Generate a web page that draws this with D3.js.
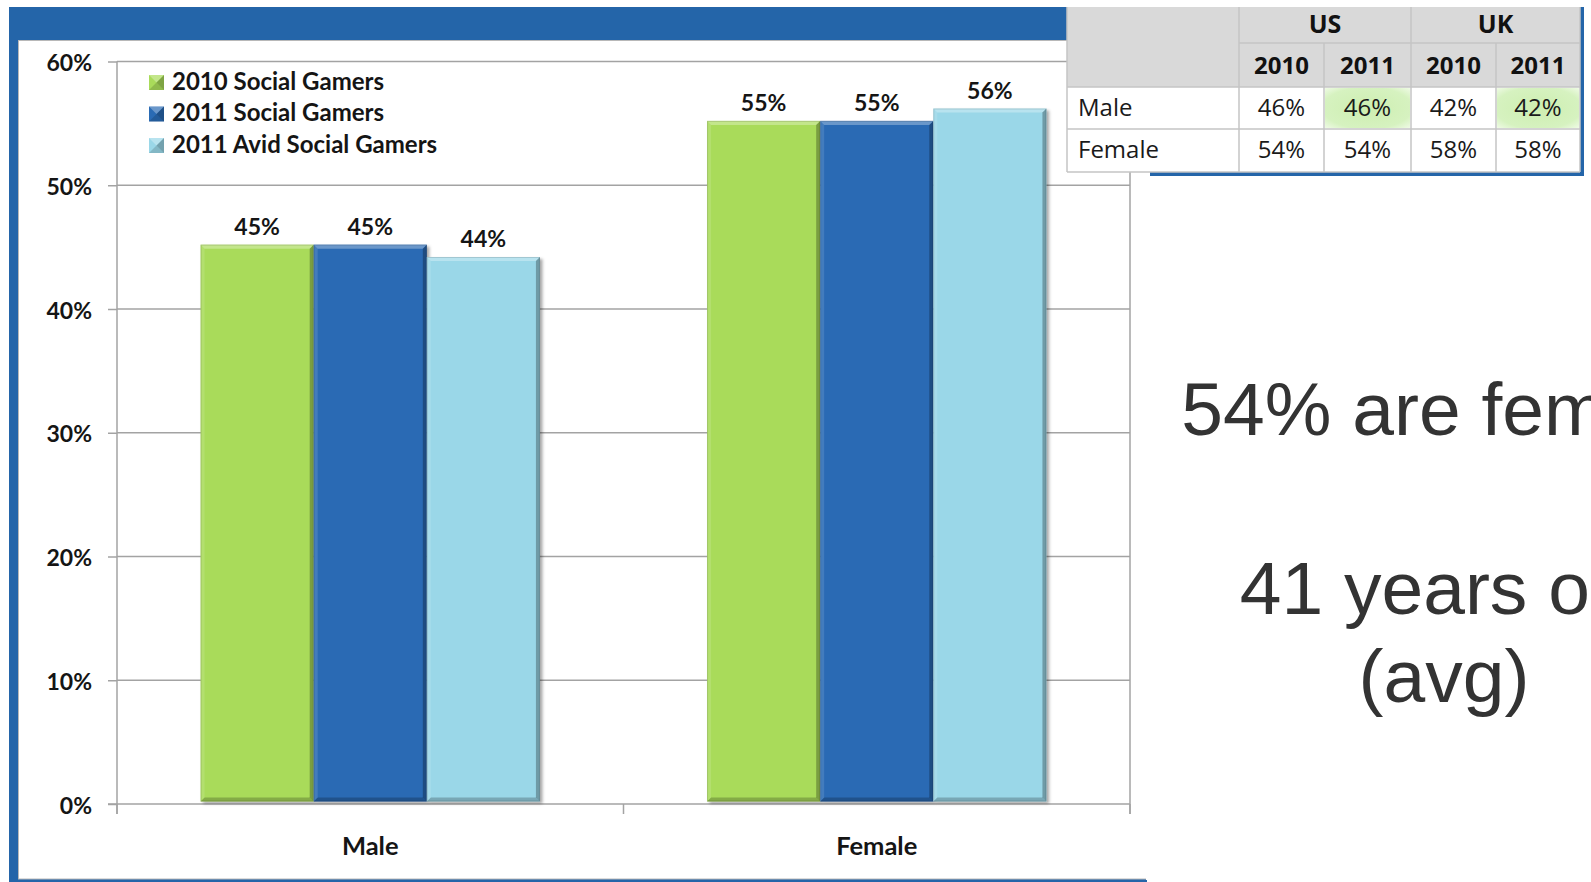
<!DOCTYPE html>
<html>
<head>
<meta charset="utf-8">
<script src="https://cdn.jsdelivr.net/npm/d3@7"></script>
<style>
  html, body { margin: 0; padding: 0; background: #ffffff; overflow: hidden; }
  svg { display: block; }
</style>
</head>
<body>
<svg id="chart" width="1591" height="882"></svg>
<script>
// ---------------- DATA ----------------
const categories = ["Male", "Female"];
const seriesNames = ["2010 Social Gamers", "2011 Social Gamers", "2011 Avid Social Gamers"];
const values2010 = [45, 55];
const values2011 = [45, 55];
const valuesAvid = [44, 56];
const yTickValues = [0, 10, 20, 30, 40, 50, 60];
const seriesColors = ["#a9db5a", "#2a6bb4", "#9ad7e8"];

const tableRegions = ["US", "UK"];
const tableYears = ["2010", "2011", "2010", "2011"];
const tableRowLabels = ["Male", "Female"];
const tableMale = [46, 46, 42, 42];
const tableFemale = [54, 54, 58, 58];
const tableHighlight = [false, true, false, true];

const sideLines = ["54% are female", "41 years old", "(avg)"];

// ---------------- SETUP ----------------
const svg = d3.select("#chart");
const blue = "#2465a9";
const gridColor = "#a3a3a3";
const chartFont = "Lato, 'Open Sans', sans-serif";
const tableFont = "'Open Sans', 'Noto Sans', sans-serif";

const defs = svg.append("defs");
const shadow = defs.append("filter").attr("id", "shadow")
  .attr("x", "-10%").attr("y", "-10%").attr("width", "130%").attr("height", "130%");
shadow.append("feDropShadow").attr("dx", 2.5).attr("dy", 2).attr("stdDeviation", 1.8)
  .attr("flood-color", "#000").attr("flood-opacity", 0.35);

const greenGrad = defs.append("radialGradient").attr("id", "greenCell")
  .attr("cx", "50%").attr("cy", "50%").attr("r", "70%");
greenGrad.append("stop").attr("offset", "0%").attr("stop-color", "#cdeeb0");
greenGrad.append("stop").attr("offset", "75%").attr("stop-color", "#d6f2c0");
greenGrad.append("stop").attr("offset", "100%").attr("stop-color", "#eefae4");

// ---------------- FRAME ----------------
svg.append("rect").attr("x", 9).attr("y", 7).attr("width", 1140).attr("height", 875).attr("fill", blue);
svg.append("rect").attr("x", 18.5).attr("y", 40.5).attr("width", 1131).attr("height", 838.5)
  .attr("fill", "#ffffff").attr("stroke", "#b8b8b8").attr("stroke-width", 1);
svg.append("rect").attr("x", 1146).attr("y", 40).attr("width", 10).attr("height", 842).attr("fill", "#ffffff");
svg.append("rect").attr("x", 9).attr("y", 880).attr("width", 1138).attr("height", 2).attr("fill", blue);

// ---------------- SCALES ----------------
const plotLeft = 117, plotRight = 1130;
const y = d3.scaleLinear().domain([0, 60]).range([804, 61.5]);
const x0 = d3.scaleBand().domain(categories).range([plotLeft, plotRight])
  .paddingInner(0.33).paddingOuter(0.165);
const x1 = d3.scaleBand().domain(seriesNames).range([0, x0.bandwidth()]).padding(0);

const g = svg.append("g");

// gridlines
g.append("g").selectAll("line").data(yTickValues.filter(d => d > 0)).join("line")
  .attr("x1", plotLeft).attr("x2", plotRight)
  .attr("y1", d => y(d)).attr("y2", d => y(d))
  .attr("stroke", gridColor).attr("stroke-width", 1.5);

g.append("line").attr("x1", plotRight).attr("x2", plotRight)
  .attr("y1", y(60)).attr("y2", 814).attr("stroke", gridColor).attr("stroke-width", 1.5);

// y axis
const yAxis = d3.axisLeft(y).tickValues(yTickValues).tickFormat(d => d + "%").tickSize(9).tickPadding(16);
const yAxisG = g.append("g").attr("transform", `translate(${plotLeft},0)`).call(yAxis);
yAxisG.select(".domain").remove();
yAxisG.selectAll(".tick line").attr("stroke", gridColor).attr("stroke-width", 1.5);
yAxisG.selectAll(".tick text").attr("font-family", chartFont).attr("font-weight", "bold")
  .attr("font-size", 23).attr("fill", "#151515").attr("dy", null).attr("dominant-baseline", "central");
g.append("line").attr("x1", plotLeft).attr("x2", plotLeft).attr("y1", y(60)).attr("y2", 814)
  .attr("stroke", gridColor).attr("stroke-width", 1.5);

// x axis baseline and category boundary ticks
g.append("line").attr("x1", plotLeft - 9).attr("x2", plotRight).attr("y1", y(0)).attr("y2", y(0))
  .attr("stroke", gridColor).attr("stroke-width", 1.5);
const boundaries = [plotLeft, (x0(categories[0]) + x0.bandwidth() + x0(categories[1])) / 2, plotRight];
g.append("g").selectAll("line").data(boundaries).join("line")
  .attr("x1", d => d).attr("x2", d => d).attr("y1", y(0)).attr("y2", 814)
  .attr("stroke", gridColor).attr("stroke-width", 1.5);

// category labels
g.append("g").selectAll("text").data(categories).join("text")
  .attr("x", d => x0(d) + x0.bandwidth() / 2).attr("y", 855)
  .attr("text-anchor", "middle").attr("font-family", chartFont).attr("font-weight", "bold")
  .attr("font-size", 25.5).attr("fill", "#151515").text(d => d);

// ---------------- BARS ----------------
const seriesValues = [values2010, values2011, valuesAvid];
const barData = [];
categories.forEach((c, ci) => {
  seriesNames.forEach((s, si) => {
    barData.push({ cat: c, series: s, value: seriesValues[si][ci], color: seriesColors[si] });
  });
});
const lift = 2.5;
const bev = 4;
const bars = g.append("g").selectAll("g.bar").data(barData).join("g").attr("class", "bar");
bars.each(function(d) {
  const sel = d3.select(this);
  const bx = x0(d.cat) + x1(d.series);
  const bw = x1.bandwidth();
  const by = y(d.value) - lift;
  const bh = y(0) - y(d.value);
  sel.append("rect").attr("x", bx).attr("y", by).attr("width", bw).attr("height", bh)
    .attr("fill", d.color).attr("filter", "url(#shadow)");
  sel.append("polygon").attr("points", [[bx, by], [bx + bw, by], [bx + bw - bev, by + bev], [bx + bev, by + bev]].join(" "))
    .attr("fill", "#ffffff").attr("opacity", 0.3);
  sel.append("polygon").attr("points", [[bx, by], [bx + bev, by + bev], [bx + bev, by + bh - bev], [bx, by + bh]].join(" "))
    .attr("fill", "#ffffff").attr("opacity", 0.12);
  sel.append("polygon").attr("points", [[bx + bw, by], [bx + bw, by + bh], [bx + bw - bev, by + bh - bev], [bx + bw - bev, by + bev]].join(" "))
    .attr("fill", "#000000").attr("opacity", 0.28);
  sel.append("polygon").attr("points", [[bx, by + bh], [bx + bw, by + bh], [bx + bw - bev, by + bh - bev], [bx + bev, by + bh - bev]].join(" "))
    .attr("fill", "#000000").attr("opacity", 0.22);
  sel.append("rect").attr("x", bx + 0.5).attr("y", by + 0.5).attr("width", bw - 1).attr("height", bh - 1)
    .attr("fill", "none").attr("stroke", "#000").attr("stroke-opacity", 0.12).attr("stroke-width", 1);
});

// value labels
g.append("g").selectAll("text").data(barData).join("text")
  .attr("x", d => x0(d.cat) + x1(d.series) + x1.bandwidth() / 2)
  .attr("y", d => y(d.value) - lift - 10)
  .attr("text-anchor", "middle").attr("font-family", chartFont).attr("font-weight", "bold")
  .attr("font-size", 23).attr("fill", "#151515").text(d => d.value + "%");

// ---------------- LEGEND ----------------
const legend = g.append("g");
const legendRows = legend.selectAll("g").data(seriesNames).join("g")
  .attr("transform", (d, i) => `translate(149, ${75 + i * 31.5})`);
legendRows.each(function(d, i) {
  const sel = d3.select(this);
  const s = 15, c = seriesColors[i];
  sel.append("rect").attr("width", s).attr("height", s).attr("fill", c);
  sel.append("polygon").attr("points", `0,0 ${s},0 ${s/2},${s/2}`).attr("fill", "#fff").attr("opacity", 0.3);
  sel.append("polygon").attr("points", `${s},0 ${s},${s} ${s/2},${s/2}`).attr("fill", "#000").attr("opacity", 0.25);
  sel.append("polygon").attr("points", `0,${s} ${s},${s} ${s/2},${s/2}`).attr("fill", "#000").attr("opacity", 0.15);
  sel.append("text").attr("x", 23).attr("y", 14.5).attr("font-family", chartFont).attr("font-weight", "bold")
    .attr("font-size", 24).attr("fill", "#151515").text(d);
});

// ---------------- TABLE (top right) ----------------
const tX = 1067, tRight = 1580, tTop = 7;
const colEdges = [1067, 1239, 1324, 1411, 1496, 1580];
const rowEdges = [7, 43, 87, 129, 172];
svg.append("rect").attr("x", 1150).attr("y", 7).attr("width", 434).attr("height", 169).attr("fill", blue);
const tg = svg.append("g");
tg.append("rect").attr("x", tX).attr("y", tTop).attr("width", tRight - tX).attr("height", rowEdges[2] - tTop)
  .attr("fill", "#d9d9d9");
tg.append("rect").attr("x", tX).attr("y", rowEdges[2]).attr("width", tRight - tX).attr("height", rowEdges[4] - rowEdges[2])
  .attr("fill", "#ffffff");
tg.append("g").selectAll("rect").data(tableHighlight.map((h, i) => ({ h, i })).filter(d => d.h)).join("rect")
  .attr("x", d => colEdges[d.i + 1] + 1).attr("y", rowEdges[2] + 1)
  .attr("width", d => colEdges[d.i + 2] - colEdges[d.i + 1] - 2).attr("height", rowEdges[3] - rowEdges[2] - 2)
  .attr("fill", "url(#greenCell)");
const lineC = "#c4c4c4";
tg.append("line").attr("x1", colEdges[1]).attr("x2", tRight).attr("y1", rowEdges[1]).attr("y2", rowEdges[1]).attr("stroke", lineC).attr("stroke-width", 1.5);
[rowEdges[2], rowEdges[3], rowEdges[4]].forEach(yy => {
  tg.append("line").attr("x1", tX).attr("x2", tRight).attr("y1", yy).attr("y2", yy).attr("stroke", lineC).attr("stroke-width", 1.5);
});
colEdges.forEach((xx, i) => {
  const top = (i === 2 || i === 4) ? rowEdges[1] : tTop;
  tg.append("line").attr("x1", xx).attr("x2", xx).attr("y1", top).attr("y2", rowEdges[4])
    .attr("stroke", lineC).attr("stroke-width", 1.5);
});
tg.append("g").selectAll("text").data(tableRegions).join("text")
  .attr("x", (d, i) => (colEdges[1 + i * 2] + colEdges[3 + i * 2]) / 2).attr("y", 33)
  .attr("text-anchor", "middle").attr("font-family", tableFont).attr("font-weight", "bold")
  .attr("font-size", 25).attr("fill", "#111").text(d => d);
tg.append("g").selectAll("text").data(tableYears).join("text")
  .attr("x", (d, i) => (colEdges[1 + i] + colEdges[2 + i]) / 2).attr("y", 74)
  .attr("text-anchor", "middle").attr("font-family", tableFont).attr("font-weight", "bold")
  .attr("font-size", 24).attr("fill", "#111").text(d => d);
tg.append("g").selectAll("text").data(tableRowLabels).join("text")
  .attr("x", tX + 11).attr("y", (d, i) => rowEdges[2 + i] + 29)
  .attr("font-family", tableFont).attr("font-size", 24).attr("fill", "#1a1a1a").text(d => d);
[tableMale, tableFemale].forEach((row, ri) => {
  tg.append("g").selectAll("text").data(row).join("text")
    .attr("x", (d, i) => (colEdges[1 + i] + colEdges[2 + i]) / 2).attr("y", rowEdges[2 + ri] + 29)
    .attr("text-anchor", "middle").attr("font-family", tableFont).attr("font-size", 24)
    .attr("fill", "#1a1a1a").text(d => d + "%");
});

// ---------------- SIDE TEXT (clipped by the page edge, as in the reference) ----------------
svg.append("g").selectAll("text").data(sideLines).join("text")
  .attr("x", 1444).attr("y", (d, i) => [435, 614, 702][i])
  .attr("text-anchor", "middle").attr("font-family", "'Liberation Sans', Arial, sans-serif")
  .attr("font-size", 75).attr("fill", "#333333").text(d => d);
</script>
</body>
</html>
